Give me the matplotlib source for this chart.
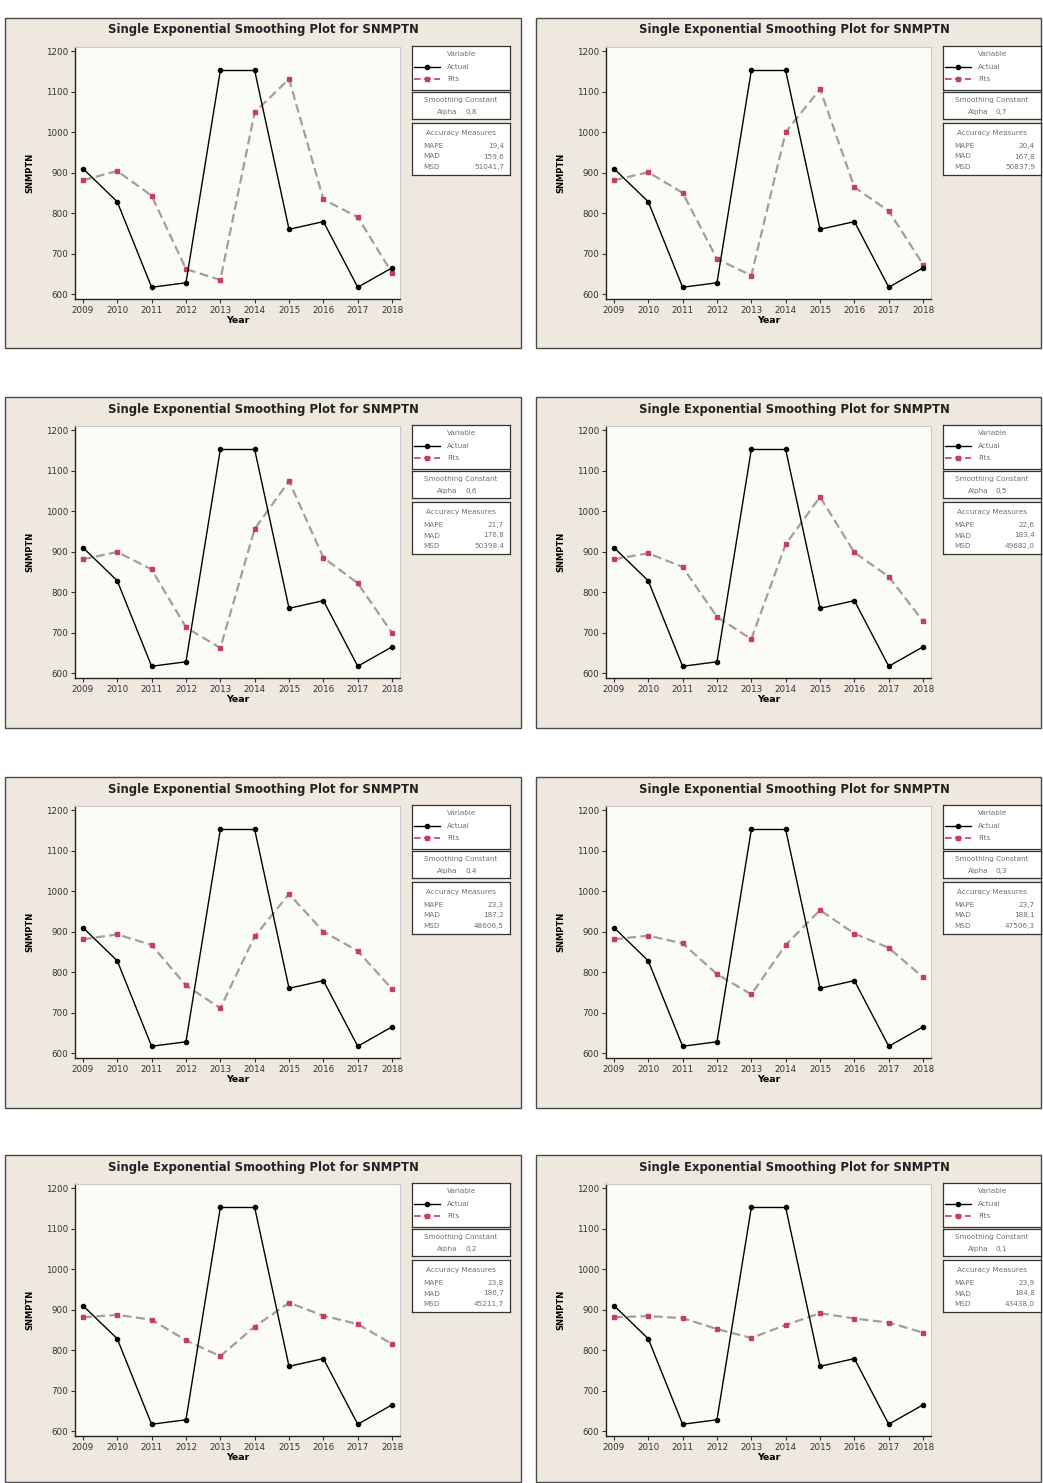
import numpy as np
import matplotlib.pyplot as plt
from matplotlib.patches import Rectangle

# data: SNMPTN series and single exponential smoothing fits for alpha 0.8 .. 0.1
years = [2009, 2010, 2011, 2012, 2013, 2014, 2015, 2016, 2017, 2018]
actual = [910, 828, 617, 628, 1152, 1152, 760, 779, 617, 665]

alphas = ["0,8", "0,7", "0,6", "0,5", "0,4", "0,3", "0,2", "0,1"]
fits_08 = [881, 904, 843, 662, 635, 1049, 1131, 834, 790, 652]
fits_07 = [881, 901, 850, 687, 646, 1000, 1106, 864, 805, 673]
fits_06 = [881, 899, 856, 713, 662, 956, 1074, 885, 822, 699]
fits_05 = [881, 896, 862, 739, 684, 918, 1035, 898, 838, 728]
fits_04 = [881, 893, 867, 767, 711, 888, 993, 900, 852, 758]
fits_03 = [881, 890, 871, 795, 745, 867, 953, 895, 860, 787]
fits_02 = [881, 887, 875, 824, 785, 858, 917, 885, 864, 815]
fits_01 = [881, 884, 879, 852, 830, 862, 891, 878, 868, 843]
fits = [fits_08, fits_07, fits_06, fits_05, fits_04, fits_03, fits_02, fits_01]

mape = ["19,4", "20,4", "21,7", "22,6", "23,3", "23,7", "23,8", "23,9"]
mad = ["159,6", "167,8", "176,8", "183,4", "187,2", "188,1", "186,7", "184,8"]
msd = ["51041,7", "50837,9", "50398,4", "49682,0", "48606,5", "47506,3", "45211,7", "43438,0"]

W, H = 1043, 1483
fig = plt.figure(figsize=(W / 100, H / 100), dpi=100)
fig.patch.set_facecolor("white")


def box(x, y, w, h):
    # pixel box (top-left origin) -> figure fraction rect
    return [x / W, 1 - (y + h) / H, w / W, h / H]


def ftxt(x, y, s, **kw):
    fig.text(x / W, 1 - y / H, s, **kw)


def small_box(x, y, w, h):
    a = fig.add_axes(box(x, y, w, h))
    a.set_xlim(0, w)
    a.set_ylim(h, 0)
    a.set_xticks([])
    a.set_yticks([])
    a.set_facecolor("white")
    for s in a.spines.values():
        s.set_linewidth(0.9)
        s.set_color("#333333")
    return a


col_left = [5, 536]
col_width = [516, 505]
row_top = [18, 397, 777, 1155]
row_height = [330, 331, 331, 327]

fit_red = "#c4405c"
dash_col = "#a59c9e"
txt_col = "#707070"
lfs = 5.2

for i in range(8):
    r, c = divmod(i, 2)
    px, py = col_left[c], row_top[r]
    pw, ph = col_width[c], row_height[r]

    # panel background and frame
    fig.patches.append(Rectangle((px / W, 1 - (py + ph) / H), pw / W, ph / H,
                                 transform=fig.transFigure, facecolor="#efe8de",
                                 edgecolor="#4a4a4a", linewidth=1.0, zorder=-5))

    ftxt(px + 258, py + 12, "Single Exponential Smoothing Plot for SNMPTN",
         ha="center", va="center", fontsize=8.4, fontweight="bold", color="#222222")

    ax = fig.add_axes(box(px + 70, py + 29, 325, 252))
    ax.set_facecolor("#fcfcf7")
    ax.plot(years, fits[i], ls=(0, (4, 2)), lw=1.6, color=dash_col, zorder=2)
    ax.plot(years, fits[i], ls="none", marker="s", ms=3.5, color=fit_red, zorder=3)
    ax.plot(years, actual, color="black", lw=1.0, marker="o", ms=3, zorder=4)
    ax.set_xlim(2008.77, 2018.23)
    ax.set_ylim(588, 1210)
    ax.set_xticks(years)
    ax.set_yticks([600, 700, 800, 900, 1000, 1100, 1200])
    ax.tick_params(labelsize=6.3, length=3, width=0.8, pad=2, colors="#333333")
    for side in ["left", "bottom"]:
        ax.spines[side].set_color("#222222")
        ax.spines[side].set_linewidth(1.0)
    for side in ["top", "right"]:
        ax.spines[side].set_color("#c8c8c8")
        ax.spines[side].set_linewidth(0.8)
    ax.set_xlabel("Year", fontsize=6.8, fontweight="bold", labelpad=1)
    ax.set_ylabel("SNMPTN", fontsize=6, fontweight="bold", labelpad=8)

    lx = px + 407

    # legend: variables
    lg = small_box(lx, py + 28, 98, 44)
    lg.text(50, 8, "Variable", ha="center", va="center", fontsize=lfs, color=txt_col)
    lg.plot([2, 28], [21, 21], color="black", lw=1.0)
    lg.plot([15], [21], marker="o", ms=3, color="black")
    lg.text(35, 21, "Actual", va="center", fontsize=lfs, color=txt_col)
    lg.plot([2, 28], [33, 33], ls=(0, (4, 2)), lw=1.2, color=fit_red)
    lg.plot([15], [33], marker="s", ms=3.5, color=fit_red)
    lg.text(35, 33, "Fits", va="center", fontsize=lfs, color=txt_col)

    # legend: smoothing constant
    sc = small_box(lx, py + 74, 98, 27)
    sc.text(49, 8, "Smoothing Constant", ha="center", va="center", fontsize=lfs,
            color=txt_col)
    sc.text(45, 20, "Alpha", ha="right", va="center", fontsize=lfs, color=txt_col)
    sc.text(53, 20, alphas[i], ha="left", va="center", fontsize=lfs, color=txt_col)

    # legend: accuracy measures
    am = small_box(lx, py + 105, 98, 52)
    am.text(49, 10, "Accuracy Measures", ha="center", va="center", fontsize=lfs,
            color=txt_col)
    for k, (lab, val) in enumerate(zip(["MAPE", "MAD", "MSD"], [mape[i], mad[i], msd[i]])):
        am.text(11, 23 + k * 10.5, lab, va="center", fontsize=lfs, color=txt_col)
        am.text(92, 23 + k * 10.5, val, ha="right", va="center", fontsize=lfs,
                color=txt_col)

fig.savefig("out.png", dpi=100, facecolor=fig.get_facecolor())
